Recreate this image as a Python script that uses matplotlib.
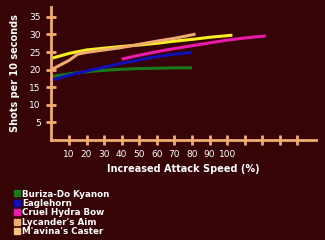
import matplotlib
matplotlib.use("Agg")
import matplotlib.pyplot as plt
from matplotlib.lines import Line2D

# Shots per 10 seconds vs increased attack speed (%)
buriza_x = [0, 10, 20, 30, 40, 50, 60, 70, 80]
buriza_y = [18.0, 18.8, 19.4, 19.8, 20.1, 20.3, 20.4, 20.5, 20.5]

eagle_x = [0, 10, 20, 30, 40, 50, 60, 70, 80]
eagle_y = [17.0, 18.4, 19.6, 20.7, 21.8, 22.8, 23.7, 24.4, 24.9]

hydra_x = [40, 50, 60, 70, 80, 90, 100, 110, 122]
hydra_y = [23.0, 24.1, 25.1, 26.0, 26.8, 27.6, 28.4, 29.0, 29.6]

lycander_x = [0, 10, 20, 30, 40, 50, 60, 70, 80, 90, 103]
lycander_y = [23.2, 24.6, 25.6, 26.1, 26.6, 27.0, 27.5, 28.1, 28.6, 29.2, 29.8]

mavina_x = [0, 10, 15, 20, 30, 40, 50, 60, 70, 82]
mavina_y = [20.0, 22.6, 24.4, 24.9, 25.6, 26.3, 27.2, 28.1, 28.9, 30.1]

names = ["Buriza-Do Kyanon", "Eaglehorn", "Cruel Hydra Bow", "Lycander's Aim", "M'avina's Caster"]
line_colors = ["#1a7a1a", "#1010b4", "#e81ca8", "#f8f020", "#f0ac70"]
legend_colors = ["#1a7a1a", "#1010b4", "#e81ca8", "#f0ac70", "#f5c080"]

bg = "#360306"
axis_col = "#f0ac70"

fig = plt.figure(figsize=(3.25, 2.4), dpi=100, facecolor=bg)
ax = fig.add_axes([0.158, 0.417, 0.814, 0.555], facecolor=bg)

series = [(buriza_x, buriza_y), (eagle_x, eagle_y), (hydra_x, hydra_y),
          (lycander_x, lycander_y), (mavina_x, mavina_y)]
for (xs, ys), c in zip(series, line_colors):
    ax.plot(xs, ys, color=c, lw=2.2, solid_capstyle="butt")

ax.set_xlim(0, 150.5)
ax.set_ylim(0, 37.9)

ax.set_xticks(range(10, 150, 10))
ax.set_xticklabels([str(v) if v <= 100 else "" for v in range(10, 150, 10)])
ax.set_yticks(range(5, 40, 5))

for s in ["top", "right"]:
    ax.spines[s].set_visible(False)
for s in ["left", "bottom"]:
    ax.spines[s].set_color(axis_col)
    ax.spines[s].set_linewidth(2)

ax.tick_params(axis="both", direction="inout", length=7, width=2, color=axis_col,
               labelcolor="white", labelsize=6.5, pad=4)

ax.set_xlabel("Increased Attack Speed (%)", color="white", fontsize=7, fontweight="bold", labelpad=3)
ax.set_ylabel("Shots per 10 seconds", color="white", fontsize=7, fontweight="bold", labelpad=7)

handles = [Line2D([], [], ls="none", marker="s", markersize=5, color=c) for c in legend_colors]
leg = fig.legend(handles, names, loc="lower left", bbox_to_anchor=(0.025, -0.01),
                 frameon=False, fontsize=6.3, handlelength=0.6, handletextpad=0.3,
                 labelspacing=0.05, borderpad=0.2)
for t in leg.get_texts():
    t.set_color("white")
    t.set_fontweight("bold")

fig.savefig("out.png", dpi=100, facecolor=bg)
